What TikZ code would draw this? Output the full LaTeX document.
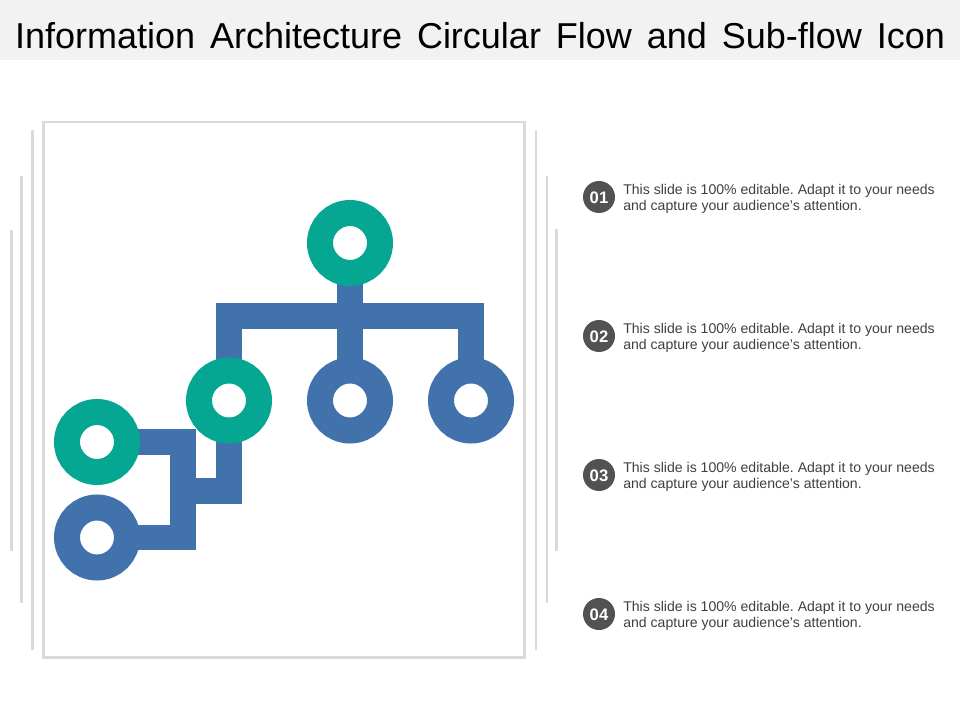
\documentclass[tikz,border=0pt]{standalone}
\usepackage{fontspec}
\setmainfont{Liberation Sans}
\usetikzlibrary{backgrounds}
\definecolor{ringgreen}{HTML}{05A793}
\definecolor{ringblue}{HTML}{4272AC}
\definecolor{rulegrey}{HTML}{D9D9D9}
\definecolor{badgegrey}{HTML}{525252}
\definecolor{bodygrey}{HTML}{404040}
\definecolor{bandgrey}{HTML}{F2F2F2}
\tikzset{
  x=0.75pt,y=-0.75pt,
  ring/.style={circle,draw=#1,fill=white,line width=19.5pt,minimum size=45pt,inner sep=0pt},
  link/.style={draw=ringblue,line width=19.1pt,miter limit=10},
  sideline/.style={draw=rulegrey,line width=2pt},
  framebox/.style={draw=rulegrey,line width=2.2pt},
  badge/.style={circle,fill=badgegrey,minimum size=24pt,inner sep=0pt},
  badgenum/.style={inner sep=0pt,text=white,font=\fontsize{12.5}{14}\selectfont\bfseries},
  blurb/.style={anchor=west,inner sep=0pt,align=left,text=bodygrey,font=\fontsize{10.56}{12}\selectfont\frenchspacing},
  titletext/.style={inner sep=0pt,text=black,font=\fontsize{27}{32}\selectfont}
}
\begin{document}
\begin{tikzpicture}
\useasboundingbox (0,0) rectangle (960,720);
\fill[bandgrey] (0,0) rectangle (960,60);
\node[titletext] (title) at (480,36) {\makebox[697.5pt][s]{Information Architecture Circular Flow and Sub-flow Icon}};
% frame and side lines
\draw[framebox] (43.8,122) rectangle (524.7,657.3);
\foreach \x/\a/\b in {32.2/130/650,21.5/176/603,11.5/230/550.5,536/130/650,547/176/603,556.7/229/550.5}
  \draw[sideline] (\x,\a) -- (\x,\b);
% rings
\node[ring=ringgreen] (top) at (350,243) {};
\node[ring=ringgreen] (mid1) at (229,400.5) {};
\node[ring=ringblue] (mid2) at (350,400.5) {};
\node[ring=ringblue] (mid3) at (471,400.5) {};
\node[ring=ringgreen] (low1) at (97,442) {};
\node[ring=ringblue] (low2) at (97,537.5) {};
\coordinate (bus) at (350,316);
\coordinate (riser) at (183,491);
\begin{scope}[on background layer]
  \path[link] (mid1.center) |- (bus) -| (mid3.center);
  \path[link] (top.center) -- (mid2.center);
  \path[link] (low1.center) -| (riser) |- (low2.center);
  \path[link] (mid1.center) |- (riser);
\end{scope}
% list
\foreach \n/\y in {01/197,02/336,03/475,04/614}{
  \node[badge] (b\n) at (599,\y) {};
  \node[badgenum] (n\n) at (599,\y+0.8) {\n};
  \node[blurb] (t\n) at (623,\y) [yshift=-1.4pt] {This slide is 100\% editable. Adapt it to your needs\\and capture your audience\symbol{39}s attention.};
}
\end{tikzpicture}
\end{document}
